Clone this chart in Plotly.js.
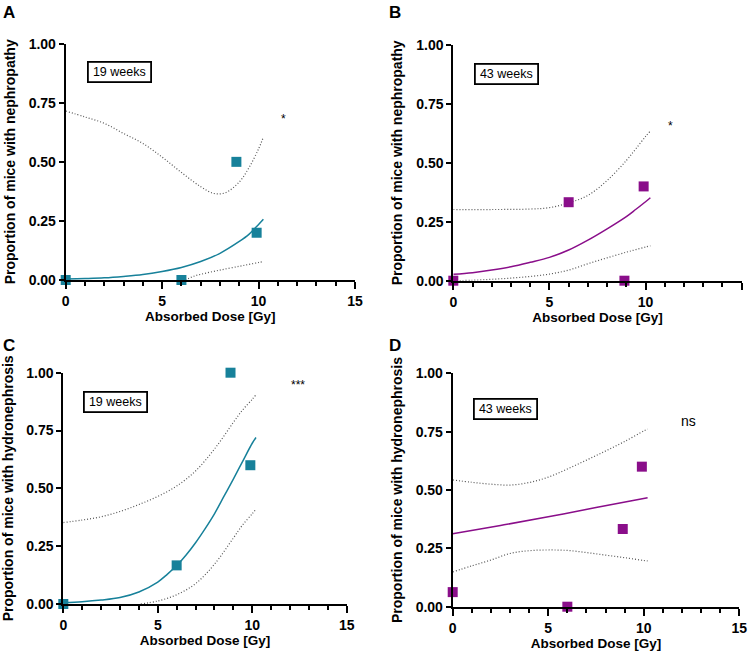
<!DOCTYPE html>
<html>
<head>
<meta charset="utf-8">
<script src="https://cdn.plot.ly/plotly-3.0.1.min.js"></script>
<style>html,body{margin:0;padding:0;background:#fff;}#chart{width:749px;height:653px;}</style>
</head>
<body>
<div id="chart"></div>
<script>
// ---------- Observed proportions ----------
const doseA = [0, 6, 8.85, 9.9];
const propA = [0, 0, 0.5, 0.2];
const doseB = [0, 6, 8.9, 9.9];
const propB = [0, 0.333, 0, 0.4];
const doseC = [0, 6, 8.85, 9.9];
const propC = [0, 0.167, 1.0, 0.6];
const doseD = [0, 6, 8.9, 9.9];
const propD = [0.0625, 0, 0.333, 0.6];

// ---------- Fitted curves and 95% bands ----------
const fitXA = [0, 1, 2, 3, 4, 5, 6, 7, 8, 9, 9.5, 10, 10.25];
const fitYA = [0.004, 0.006, 0.009, 0.015, 0.023, 0.036, 0.053, 0.078, 0.113, 0.163, 0.193, 0.235, 0.257];
const upXA = [0, 1, 2, 3, 4, 5, 6, 7, 7.7, 8.3, 9, 9.5, 10, 10.25];
const upYA = [0.715, 0.69, 0.663, 0.62, 0.578, 0.52, 0.455, 0.395, 0.366, 0.37, 0.415, 0.475, 0.555, 0.605];
const loXA = [6.2, 6.6, 7, 8, 9, 9.5, 10, 10.25];
const loYA = [0.0, 0.015, 0.024, 0.042, 0.058, 0.066, 0.074, 0.078];

const fitXB = [0, 1, 2, 3, 4, 5, 6, 7, 8, 9, 9.5, 10, 10.25];
const fitYB = [0.027, 0.034, 0.045, 0.059, 0.078, 0.099, 0.13, 0.172, 0.22, 0.272, 0.303, 0.335, 0.352];
const upXB = [0, 2, 4, 5, 6, 7, 8, 9, 9.5, 10, 10.25];
const upYB = [0.302, 0.302, 0.304, 0.31, 0.33, 0.362, 0.425, 0.51, 0.56, 0.612, 0.635];
const loXB = [0, 1, 2, 3, 4, 5, 6, 7, 8, 9, 9.5, 10, 10.25];
const loYB = [0.0, 0.002, 0.006, 0.011, 0.018, 0.028, 0.045, 0.072, 0.097, 0.121, 0.132, 0.143, 0.148];

const fitXC = [0, 1, 2, 3, 4, 5, 5.5, 6, 6.5, 7, 7.5, 8, 8.5, 9, 9.5, 10, 10.2];
const fitYC = [0.006, 0.01, 0.017, 0.028, 0.052, 0.095, 0.128, 0.166, 0.212, 0.265, 0.325, 0.39, 0.465, 0.54, 0.618, 0.695, 0.72];
const upXC = [0, 1, 2, 3, 4, 5, 6, 7, 8, 9, 9.5, 10, 10.2];
const upYC = [0.352, 0.363, 0.377, 0.4, 0.43, 0.465, 0.51, 0.575, 0.67, 0.785, 0.84, 0.885, 0.905];
const loXC = [4.1, 5, 6, 7, 8, 9, 9.5, 10, 10.2];
const loYC = [0.0, 0.013, 0.04, 0.088, 0.172, 0.285, 0.343, 0.39, 0.41];

const fitXD = [0, 2.5, 5, 7.5, 10.2];
const fitYD = [0.313, 0.348, 0.385, 0.425, 0.467];
const upXD = [0, 1, 2, 3, 4, 5, 6, 7, 8, 9, 10, 10.2];
const upYD = [0.543, 0.533, 0.525, 0.521, 0.532, 0.555, 0.59, 0.628, 0.667, 0.708, 0.753, 0.761];
const loXD = [0, 1, 2, 3, 4, 5, 6, 7, 8, 9, 10, 10.2];
const loYD = [0.149, 0.175, 0.2, 0.228, 0.24, 0.243, 0.241, 0.232, 0.221, 0.21, 0.198, 0.196];

// ---------- Labels ----------
const panelLetters = ["A", "B", "C", "D"];
const weekLabels = ["19 weeks", "43 weeks", "19 weeks", "43 weeks"];
const sigLabels = ["*", "*", "***", "ns"];
const yTitles = ["Proportion of mice with nephropathy", "Proportion of mice with nephropathy",
                 "Proportion of mice with hydronephrosis", "Proportion of mice with hydronephrosis"];
const xTitle = "Absorbed Dose [Gy]";
const xTicks = [0, 5, 10, 15];
const yTicks = [0, 0.25, 0.5, 0.75, 1.0];

const TEAL = "#17819a";
const PURPLE = "#8a0e8a";
const FONT = "Liberation Sans, Arial, sans-serif";

const panels = [
  {dx: doseA, py: propA, fx: fitXA, fy: fitYA, ux: upXA, uy: upYA, lx: loXA, ly: loYA, color: TEAL},
  {dx: doseB, py: propB, fx: fitXB, fy: fitYB, ux: upXB, uy: upYB, lx: loXB, ly: loYB, color: PURPLE},
  {dx: doseC, py: propC, fx: fitXC, fy: fitYC, ux: upXC, uy: upYC, lx: loXC, ly: loYC, color: TEAL},
  {dx: doseD, py: propD, fx: fitXD, fy: fitYD, ux: upXD, uy: upYD, lx: loXD, ly: loYD, color: PURPLE}
];

const W = 749, H = 653;
// plot areas in px: [left, right, top, bottom]
const boxes = [
  [65.7, 355, 43.7, 280],
  [453.3, 741.7, 45, 280.7],
  [63.3, 346.7, 372.7, 604],
  [452.7, 739.3, 373.3, 606.7]
];
const weekPos = [[2.8, 0.882], [2.79, 0.878], [2.76, 0.875], [2.76, 0.845]];
const sigPos = [[11.28, 0.681], [11.32, 0.655], [12.41, 0.947], [12.33, 0.796]];
const letterPos = [[1, 1], [387, 1], [1, 334], [387, 334]];

const traces = [];
const layout = {
  width: W, height: H,
  margin: {l: 0, r: 0, t: 0, b: 0},
  paper_bgcolor: "white", plot_bgcolor: "white",
  showlegend: false,
  font: {family: FONT, color: "black"},
  annotations: []
};

panels.forEach((p, i) => {
  const n = i + 1;
  const xa = n === 1 ? "x" : "x" + n;
  const ya = n === 1 ? "y" : "y" + n;
  const dot = {color: "#555", width: 1.2, dash: "1px,2px"};
  traces.push({x: p.ux, y: p.uy, xaxis: xa, yaxis: ya, mode: "lines", line: Object.assign({shape: "spline", smoothing: 1}, dot), hoverinfo: "skip"});
  traces.push({x: p.lx, y: p.ly, xaxis: xa, yaxis: ya, mode: "lines", line: Object.assign({shape: "spline", smoothing: 1}, dot), hoverinfo: "skip"});
  traces.push({x: p.fx, y: p.fy, xaxis: xa, yaxis: ya, mode: "lines", line: {color: p.color, width: 1.5, shape: "spline", smoothing: 1}});
  traces.push({x: p.dx, y: p.py, xaxis: xa, yaxis: ya, mode: "markers", cliponaxis: false,
    marker: {symbol: "square", size: 10, color: p.color, line: {width: 0}}});

  const b = boxes[i];
  const xKey = n === 1 ? "xaxis" : "xaxis" + n;
  const yKey = n === 1 ? "yaxis" : "yaxis" + n;
  layout[xKey] = {
    domain: [b[0] / W, b[1] / W], anchor: ya, range: [0, 15],
    showline: true, linecolor: "black", linewidth: 2, zeroline: false, showgrid: false,
    tickmode: "array", tickvals: xTicks, ticks: "outside", ticklen: 7, tickwidth: 2, tickcolor: "black",
    tickfont: {family: FONT, size: 14, weight: "bold", color: "black"},
    minor: {dtick: 1, tick0: 0, ticks: "outside", ticklen: 4, tickwidth: 2, tickcolor: "black", showgrid: false},
    title: {text: xTitle, font: {family: FONT, size: 13.5, weight: "bold", color: "black"}, standoff: 4},
    automargin: false, fixedrange: true
  };
  layout[yKey] = {
    domain: [1 - b[3] / H, 1 - b[2] / H], anchor: xa, range: [0, 1],
    showline: true, linecolor: "black", linewidth: 2, zeroline: false, showgrid: false,
    tickmode: "array", tickvals: yTicks, tickformat: ".2f", ticks: "outside", ticklen: 5, tickwidth: 2, tickcolor: "black",
    tickfont: {family: FONT, size: 14, weight: "bold", color: "black"},
    title: {text: yTitles[i], font: {family: FONT, size: 14, weight: "bold", color: "black"}, standoff: 10},
    automargin: false, fixedrange: true
  };

  layout.annotations.push({
    xref: xa, yref: ya, x: weekPos[i][0], y: weekPos[i][1], text: weekLabels[i], showarrow: false,
    font: {family: FONT, size: 12.5, color: "black"}, bordercolor: "black", borderwidth: 1.8,
    borderpad: 0, width: 61, height: 18, bgcolor: "white"
  });
  layout.annotations.push({
    xref: xa, yref: ya, x: sigPos[i][0], y: sigPos[i][1], text: sigLabels[i], showarrow: false,
    font: {family: FONT, size: sigLabels[i] === "ns" ? 14 : 12, color: "black"}
  });
  layout.annotations.push({
    xref: "paper", yref: "paper", x: letterPos[i][0] / W, y: 1 - letterPos[i][1] / H,
    xanchor: "left", yanchor: "top", text: "<b>" + panelLetters[i] + "</b>", showarrow: false,
    font: {family: FONT, size: 17, color: "black"}
  });
});

Plotly.newPlot("chart", traces, layout, {staticPlot: true, displayModeBar: false});
</script>
</body>
</html>
